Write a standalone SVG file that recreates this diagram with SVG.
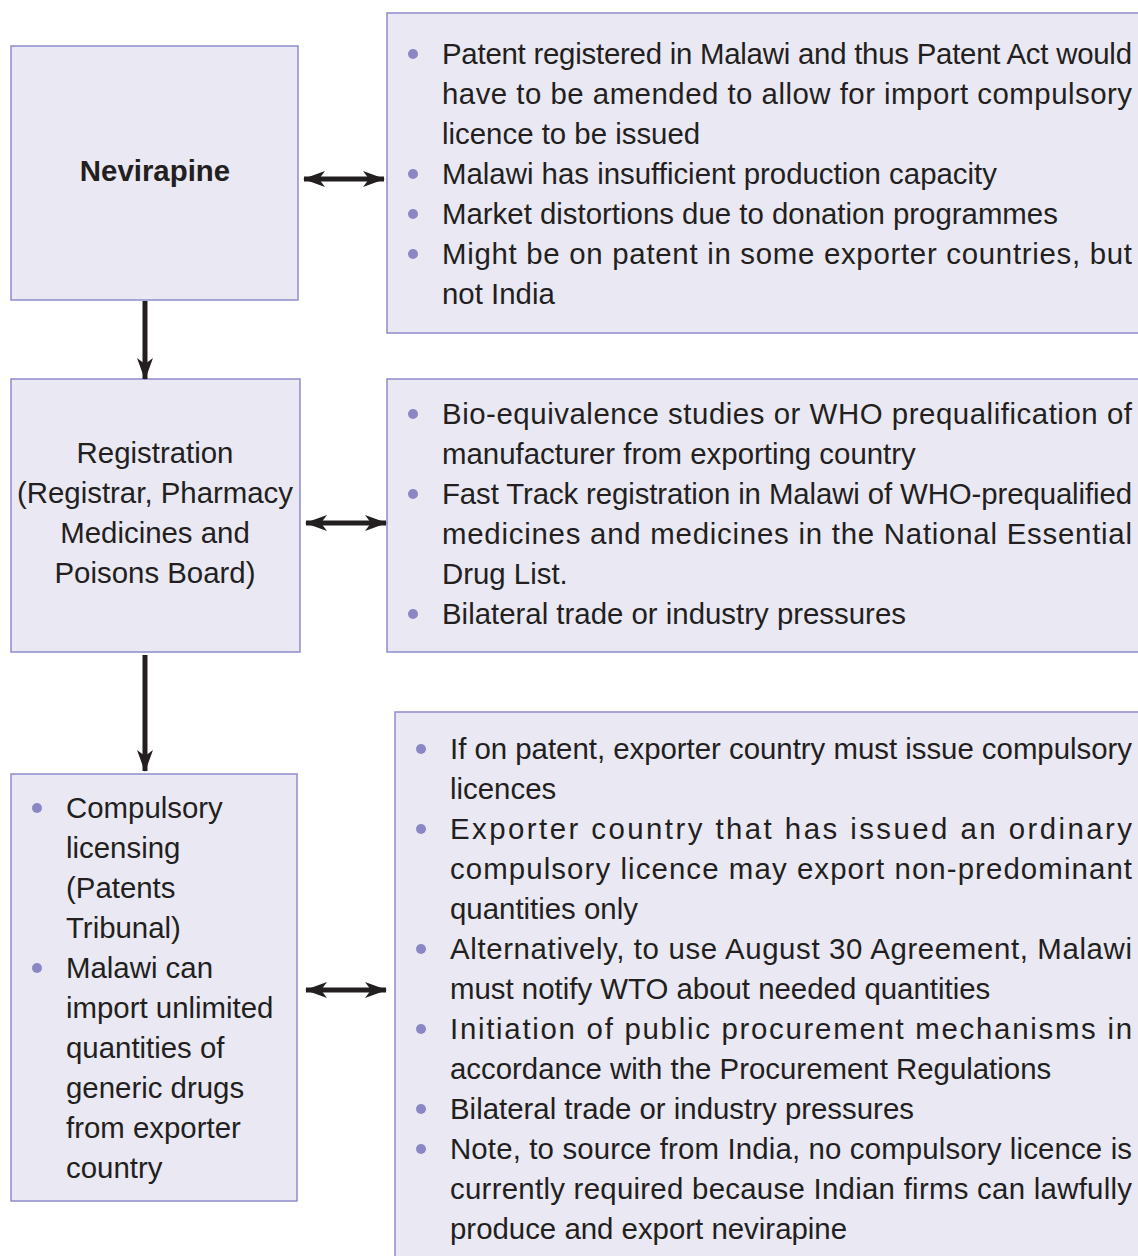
<svg xmlns="http://www.w3.org/2000/svg" width="1138" height="1256" viewBox="0 0 1138 1256">
<style>
.box{fill:#e9e8f3;stroke:#8f8ccc;stroke-width:1.5}
.t{font-family:"Liberation Sans",Arial,sans-serif;font-size:29.4px;fill:#231f20}
.c{text-anchor:middle}
.b{font-weight:bold}
.dot{fill:#8a87c4}
.ln{stroke:#231f20;stroke-width:5;fill:none}
</style>
<defs>
<marker id="ah" viewBox="0 0 22 16" refX="21" refY="8" markerWidth="22" markerHeight="16" orient="auto-start-reverse" markerUnits="userSpaceOnUse">
<path d="M0,0 L22,8 L0,16 L6,8 Z" fill="#231f20"/>
</marker>
</defs>
<g id="n1"><rect class="box" x="11" y="46" width="287" height="254"/>
<text class="t c b" x="155" y="181">Nevirapine</text></g>
<g id="n2"><rect class="box" x="387" y="13" width="760" height="320"/>
<circle class="dot" cx="413" cy="54" r="5"/><circle class="dot" cx="413" cy="174" r="5"/><circle class="dot" cx="413" cy="214" r="5"/><circle class="dot" cx="413" cy="254" r="5"/>
<text class="t" x="442" y="64" textLength="690" lengthAdjust="spacing">Patent registered in Malawi and thus Patent Act would</text>
<text class="t" x="442" y="104" textLength="690" lengthAdjust="spacing">have to be amended to allow for import compulsory</text>
<text class="t" x="442" y="144">licence to be issued</text>
<text class="t" x="442" y="184">Malawi has insufficient production capacity</text>
<text class="t" x="442" y="224">Market distortions due to donation programmes</text>
<text class="t" x="442" y="264" textLength="690" lengthAdjust="spacing">Might be on patent in some exporter countries, but</text>
<text class="t" x="442" y="304">not India</text></g>
<g id="n3"><rect class="box" x="11" y="379" width="289" height="273"/>
<text class="t c" x="155" y="463">Registration</text>
<text class="t c" x="155" y="503">(Registrar, Pharmacy</text>
<text class="t c" x="155" y="543">Medicines and</text>
<text class="t c" x="155" y="583">Poisons Board)</text></g>
<g id="n4"><rect class="box" x="387" y="379" width="760" height="273"/>
<circle class="dot" cx="413" cy="414" r="5"/><circle class="dot" cx="413" cy="494" r="5"/><circle class="dot" cx="413" cy="614" r="5"/>
<text class="t" x="442" y="424" textLength="690" lengthAdjust="spacing">Bio-equivalence studies or WHO prequalification of</text>
<text class="t" x="442" y="464">manufacturer from exporting country</text>
<text class="t" x="442" y="504" textLength="690" lengthAdjust="spacing">Fast Track registration in Malawi of WHO-prequalified</text>
<text class="t" x="442" y="544" textLength="690" lengthAdjust="spacing">medicines and medicines in the National Essential</text>
<text class="t" x="442" y="584">Drug List.</text>
<text class="t" x="442" y="624">Bilateral trade or industry pressures</text></g>
<g id="n5"><rect class="box" x="11" y="774" width="286" height="427"/>
<circle class="dot" cx="37" cy="808" r="5"/><circle class="dot" cx="37" cy="968" r="5"/>
<text class="t" x="66" y="818">Compulsory</text>
<text class="t" x="66" y="858">licensing</text>
<text class="t" x="66" y="898">(Patents</text>
<text class="t" x="66" y="938">Tribunal)</text>
<text class="t" x="66" y="978">Malawi can</text>
<text class="t" x="66" y="1018">import unlimited</text>
<text class="t" x="66" y="1058">quantities of</text>
<text class="t" x="66" y="1098">generic drugs</text>
<text class="t" x="66" y="1138">from exporter</text>
<text class="t" x="66" y="1178">country</text></g>
<g id="n6"><rect class="box" x="395" y="712" width="760" height="560"/>
<circle class="dot" cx="421" cy="749" r="5"/><circle class="dot" cx="421" cy="829" r="5"/><circle class="dot" cx="421" cy="949" r="5"/><circle class="dot" cx="421" cy="1029" r="5"/><circle class="dot" cx="421" cy="1109" r="5"/><circle class="dot" cx="421" cy="1149" r="5"/>
<text class="t" x="450" y="759" textLength="682" lengthAdjust="spacing">If on patent, exporter country must issue compulsory</text>
<text class="t" x="450" y="799">licences</text>
<text class="t" x="450" y="839" textLength="682" lengthAdjust="spacing">Exporter country that has issued an ordinary</text>
<text class="t" x="450" y="879" textLength="682" lengthAdjust="spacing">compulsory licence may export non-predominant</text>
<text class="t" x="450" y="919">quantities only</text>
<text class="t" x="450" y="959" textLength="682" lengthAdjust="spacing">Alternatively, to use August 30 Agreement, Malawi</text>
<text class="t" x="450" y="999">must notify WTO about needed quantities</text>
<text class="t" x="450" y="1039" textLength="682" lengthAdjust="spacing">Initiation of public procurement mechanisms in</text>
<text class="t" x="450" y="1079">accordance with the Procurement Regulations</text>
<text class="t" x="450" y="1119">Bilateral trade or industry pressures</text>
<text class="t" x="450" y="1159" textLength="682" lengthAdjust="spacing">Note, to source from India, no compulsory licence is</text>
<text class="t" x="450" y="1199" textLength="682" lengthAdjust="spacing">currently required because Indian firms can lawfully</text>
<text class="t" x="450" y="1239">produce and export nevirapine</text></g>
<g id="connectors">
<line class="ln" x1="304" y1="179" x2="384" y2="179" marker-start="url(#ah)" marker-end="url(#ah)"/>
<line class="ln" x1="306" y1="523" x2="386" y2="523" marker-start="url(#ah)" marker-end="url(#ah)"/>
<line class="ln" x1="306" y1="990" x2="386" y2="990" marker-start="url(#ah)" marker-end="url(#ah)"/>
<line class="ln" x1="145" y1="301" x2="145" y2="379" marker-end="url(#ah)"/>
<line class="ln" x1="145" y1="655" x2="145" y2="771" marker-end="url(#ah)"/>
</g>
</svg>
